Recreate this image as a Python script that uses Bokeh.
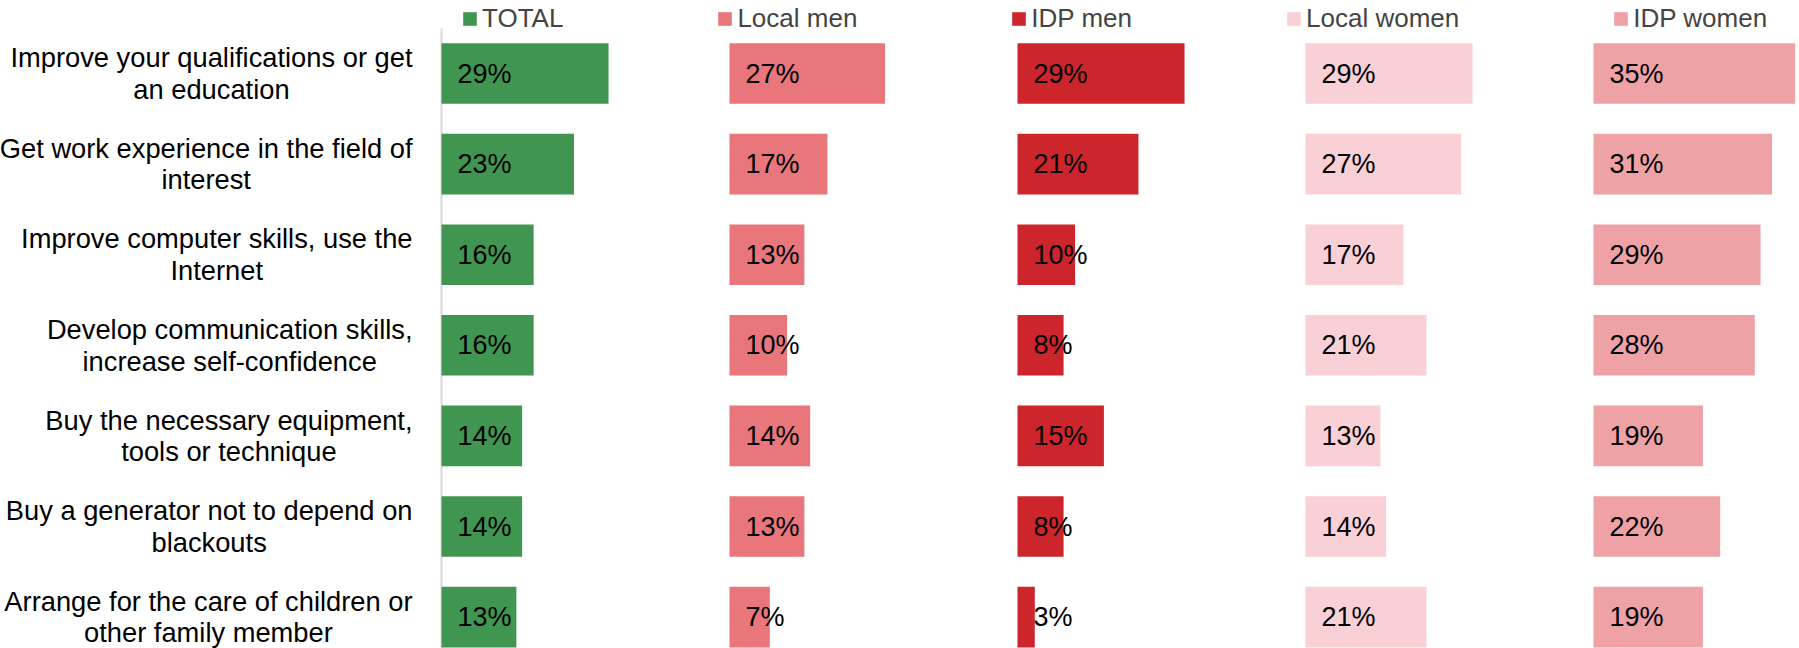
from bokeh.plotting import figure
from bokeh.models import ColumnDataSource, Range1d, Legend, LegendItem
from bokeh.core.properties import value
from bokeh.embed import file_html
from bokeh.resources import INLINE

categories = [
    "Improve your qualifications or get\nan education",
    "Get work experience in the field of\ninterest",
    "Improve computer skills, use the\nInternet",
    "Develop communication skills,\nincrease self-confidence",
    "Buy the necessary equipment,\ntools or technique",
    "Buy a generator not to depend on\nblackouts",
    "Arrange for the care of children or\nother family member",
]
series_names = ["TOTAL", "Local men", "IDP men", "Local women", "IDP women"]
total = [29, 23, 16, 16, 14, 14, 13]
local_men = [27, 17, 13, 10, 14, 13, 7]
idp_men = [29, 21, 10, 8, 15, 8, 3]
local_women = [29, 27, 17, 21, 13, 14, 21]
idp_women = [35, 31, 29, 28, 19, 22, 19]
series_values = [total, local_men, idp_men, local_women, idp_women]
colors = ["#409650", "#e8767b", "#cc252b", "#f8d0d6", "#eea2a5"]

FONT = "Liberation Sans"
W, H = 1799, 648
AXIS_PX = 441      # axis position from figure left
ROW0_PX = 73       # first row centre from figure top
PX_PER_PCT = 5.76
PX_PER_ROW = 90.6
PANEL = 50         # width of one panel, in percent units

x_start = -AXIS_PX / PX_PER_PCT
x_end = (W - AXIS_PX) / PX_PER_PCT
y_top = -ROW0_PX / PX_PER_ROW
y_bottom = (H - ROW0_PX) / PX_PER_ROW

p = figure(width=W, height=H,
           x_range=Range1d(x_start, x_end), y_range=Range1d(y_bottom, y_top),
           x_axis_location=None, y_axis_location=None,
           output_backend="svg", toolbar_location=None, min_border=0)
p.grid.visible = False
p.outline_line_color = None
p.background_fill_color = "white"
p.border_fill_color = "white"

n = len(categories)
ys = list(range(n))

# vertical category axis line
p.segment(x0=[0], y0=[-0.5], x1=[0], y1=[n], line_color="#d9d9d9", line_width=2)

items = []
for i, (name, vals, col) in enumerate(zip(series_names, series_values, colors)):
    src = ColumnDataSource(dict(
        y=ys,
        left=[i * PANEL] * n,
        right=[i * PANEL + v for v in vals],
        label=[f"{v}%" for v in vals],
    ))
    r = p.hbar(y="y", left="left", right="right", height=0.669,
               fill_color=col, line_color=None, source=src)
    p.text(x="left", y="y", text="label", x_offset=16, source=src,
           text_align="left", text_baseline="middle",
           text_font=value(FONT), text_font_size="27px", text_color="black")
    items.append(LegendItem(label=name, renderers=[r]))

# category labels
p.text(x=[0] * n, y=ys, text=categories, x_offset=-29,
       anchor=value("center_right"), text_align="center", text_baseline="middle",
       text_line_height=1.02,
       text_font=value(FONT), text_font_size="27.3px", text_color="black")

legend = Legend(items=items, orientation="horizontal", location=(461, 614),
                spacing=153, padding=0, margin=0,
                glyph_width=17, glyph_height=17, label_standoff=4,
                label_text_font=FONT, label_text_font_size="26px",
                border_line_color=None, background_fill_alpha=0)
p.add_layout(legend)

open("out.html", "w").write(file_html(p, INLINE))
